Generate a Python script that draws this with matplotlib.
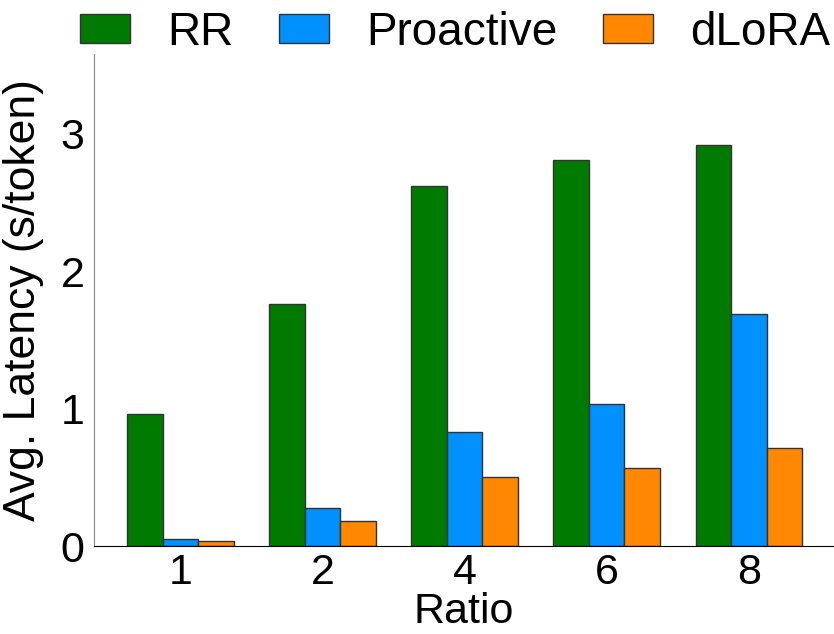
import matplotlib.pyplot as plt
import numpy as np

plt.rcParams['font.family'] = ['Liberation Sans', 'DejaVu Sans']

ratios = ['1', '2', '4', '6', '8']
rr = [0.96, 1.76, 2.62, 2.81, 2.92]
proactive = [0.05, 0.28, 0.83, 1.03, 1.69]
dlora = [0.04, 0.18, 0.50, 0.57, 0.71]

names = ['RR', 'Proactive', 'dLoRA']
colors = ['#007a00', '#0091ff', '#ff8800']

fig = plt.figure(figsize=(8.34, 6.34), dpi=100)
ax = fig.add_axes([94/834, 88/634, 740/834, 492/634])

x = np.arange(len(ratios))
w = 0.25
for i, (vals, name, c) in enumerate(zip([rr, proactive, dlora], names, colors)):
    ax.bar(x + (i - 1) * w, vals, w, color=c, edgecolor='#333333',
           linewidth=1, label=name)

ax.set_xlim(-0.61, 4.6)
ax.set_ylim(0, 3.58)
ax.set_yticks([0, 1, 2, 3])
ax.set_xticks(x)
ax.set_xticklabels(ratios)
ax.tick_params(axis='both', length=0, labelsize=31)
ax.tick_params(axis='y', pad=7)
ax.tick_params(axis='x', pad=5)

ax.spines['top'].set_visible(False)
ax.spines['right'].set_visible(False)
ax.spines['left'].set_color('#888888')
ax.spines['bottom'].set_color('black')

ax.set_ylabel('Avg. Latency (s/token)', fontsize=32)
ax.yaxis.set_label_coords(-0.068, 0.5)
ax.set_xlabel('Ratio', fontsize=31, labelpad=-1)

fig.legend(loc='center', bbox_to_anchor=(455/834, 1 - 33/634), ncol=3,
           frameon=False, fontsize=33, handlelength=1.1, handleheight=0.6,
           handletextpad=0.8, columnspacing=1.0)

fig.savefig('out.png', dpi=100)
